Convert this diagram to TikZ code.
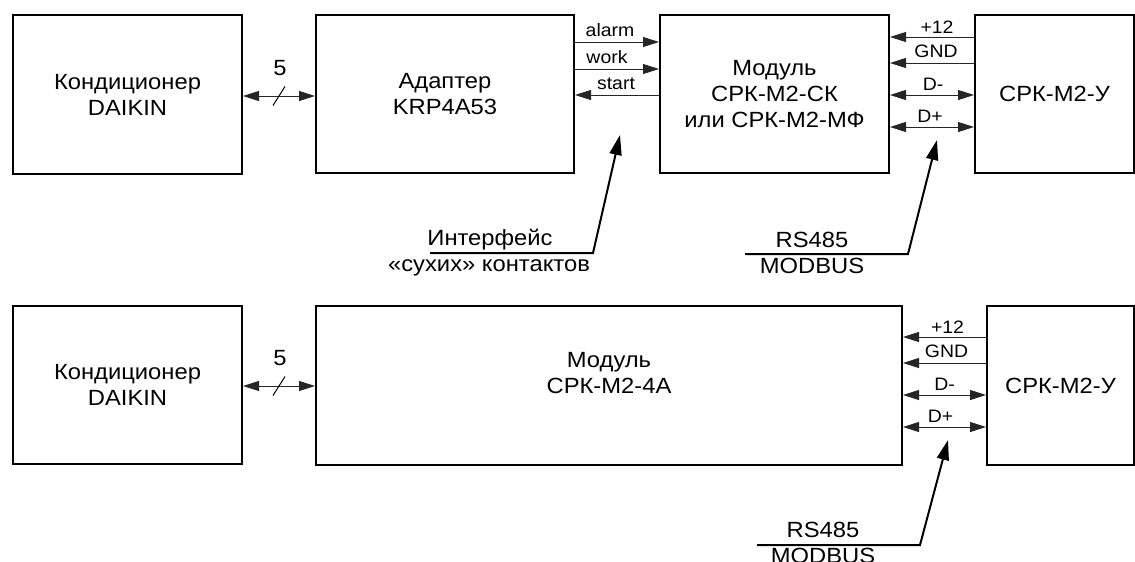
\documentclass[tikz,border=0pt]{standalone}
\usepackage{fontspec}
\setmainfont[FakeStretch=1.08]{Liberation Sans}
\usetikzlibrary{arrows.meta}
\begin{document}
\begin{tikzpicture}[x=1pt,y=-1pt,
  box/.style={draw, line width=2pt, inner sep=0pt, align=center, font=\fontsize{22}{26}\selectfont},
  sig/.style={line width=0.9pt, draw=black!85},
  rt/.style={-{Triangle[length=16pt,width=10pt]}},
  lr/.style={{Triangle[length=16pt,width=10pt]}-{Triangle[length=16pt,width=10pt]}},
  lab/.style={font=\fontsize{18}{20}\selectfont, inner sep=0pt, anchor=base},
  ann/.style={font=\fontsize{22}{24}\selectfont, inner sep=0pt},
  ptr/.style={line width=2pt, -{Triangle[length=20pt,width=12pt]}},
  slash/.style={line width=1pt}
]
\clip (0,0) rectangle (1135,562);
% ---------- top row ----------
\node[box, minimum width=229pt, minimum height=159pt] (k1) at (127.5,94.5) {Кондиционер\\DAIKIN};
\node[box, minimum width=258pt, minimum height=158pt] (a1) at (445,94) {Адаптер\\KRP4A53};
\node[box, minimum width=229pt, minimum height=158pt] (m1) at (774.5,94) {Модуль\\СРК-М2-СК\\или СРК-М2-МФ};
\node[box, minimum width=159pt, minimum height=158pt] (u1) at (1054.5,94) {СРК-М2-У};

\coordinate (y5a) at (0,96);
\coordinate (yal) at (0,42);
\coordinate (ywo) at (0,69);
\coordinate (yst) at (0,95);
\coordinate (y12a) at (0,37);
\coordinate (ygna) at (0,63);
\coordinate (ydma) at (0,95);
\coordinate (ydpa) at (0,127);

\draw[sig, lr] (k1.east |- y5a) -- (a1.west |- y5a) coordinate[midway] (s1);
\draw[slash] ([xshift=-6pt,yshift=-9.5pt]s1) -- ([xshift=6pt,yshift=9.5pt]s1);
\node[ann] (n5a) at (280,68) {5};

\draw[sig, rt] (a1.east |- yal) -- (m1.west |- yal) node[lab, midway, yshift=6pt, xshift=-7pt] {alarm};
\draw[sig, rt] (a1.east |- ywo) -- (m1.west |- ywo) node[lab, midway, yshift=6pt, xshift=-10pt] {work};
\draw[sig, rt] (m1.west |- yst) -- (a1.east |- yst) node[lab, midway, yshift=6pt, xshift=-1pt] {start};

\draw[sig, rt] (u1.west |- y12a) -- (m1.east |- y12a) node[lab, midway, yshift=4pt, xshift=5pt] {+12};
\draw[sig, rt] (u1.west |- ygna) -- (m1.east |- ygna) node[lab, midway, yshift=6pt, xshift=4pt] {GND};
\draw[sig, lr] (m1.east |- ydma) -- (u1.west |- ydma) node[lab, midway, yshift=5pt, xshift=1pt] {D-};
\draw[sig, lr] (m1.east |- ydpa) -- (u1.west |- ydpa) node[lab, midway, yshift=5pt, xshift=-2pt] {D+};

% pointers top
\node[ann] (t1) at (490,240) {Интерфейс};
\node[ann] (t2) at (489,268) {«сухих» контактов};
\coordinate (p1s) at (430,253);
\coordinate (p1k) at (593,253);
\coordinate (p1t) at (620,135);
\draw[ptr] (p1s) -- (p1k) -- (p1t);

\node[ann] (r1) at (812,240) {RS485};
\node[ann] (r2) at (812,266) {MODBUS};
\coordinate (p2s) at (745,254);
\coordinate (p2k) at (908,254);
\coordinate (p2t) at (937,140);
\draw[ptr] (p2s) -- (p2k) -- (p2t);

% ---------- bottom row ----------
\node[box, minimum width=229pt, minimum height=158pt] (k2) at (127.5,385) {Кондиционер\\DAIKIN};
\node[box, minimum width=586pt, minimum height=159pt] (m2) at (609,385.5) {Модуль\\СРК-М2-4А\\\mbox{}};
\node[box, minimum width=147pt, minimum height=159pt] (u2) at (1060.5,385.5) {СРК-М2-У};

\coordinate (y5b) at (0,386);
\coordinate (y12b) at (0,337);
\coordinate (ygnb) at (0,363);
\coordinate (ydmb) at (0,395);
\coordinate (ydpb) at (0,427);

\draw[sig, lr] (k2.east |- y5b) -- (m2.west |- y5b) coordinate[midway] (s2);
\draw[slash] ([xshift=-6pt,yshift=-9.5pt]s2) -- ([xshift=6pt,yshift=9.5pt]s2);
\node[ann] (n5b) at (280,358) {5};

\draw[sig, rt] (u2.west |- y12b) -- (m2.east |- y12b) node[lab, midway, yshift=4pt, xshift=3pt] {+12};
\draw[sig, rt] (u2.west |- ygnb) -- (m2.east |- ygnb) node[lab, midway, yshift=6pt, xshift=2pt] {GND};
\draw[sig, lr] (m2.east |- ydmb) -- (u2.west |- ydmb) node[lab, midway, yshift=5pt, xshift=0pt] {D-};
\draw[sig, lr] (m2.east |- ydpb) -- (u2.west |- ydpb) node[lab, midway, yshift=5pt, xshift=-4pt] {D+};

\node[ann] (r3) at (823,530) {RS485};
\node[ann] (r4) at (823,555.5) {MODBUS};
\coordinate (p3s) at (757,545);
\coordinate (p3k) at (920,545);
\coordinate (p3t) at (948,440);
\draw[ptr] (p3s) -- (p3k) -- (p3t);
\end{tikzpicture}
\end{document}
